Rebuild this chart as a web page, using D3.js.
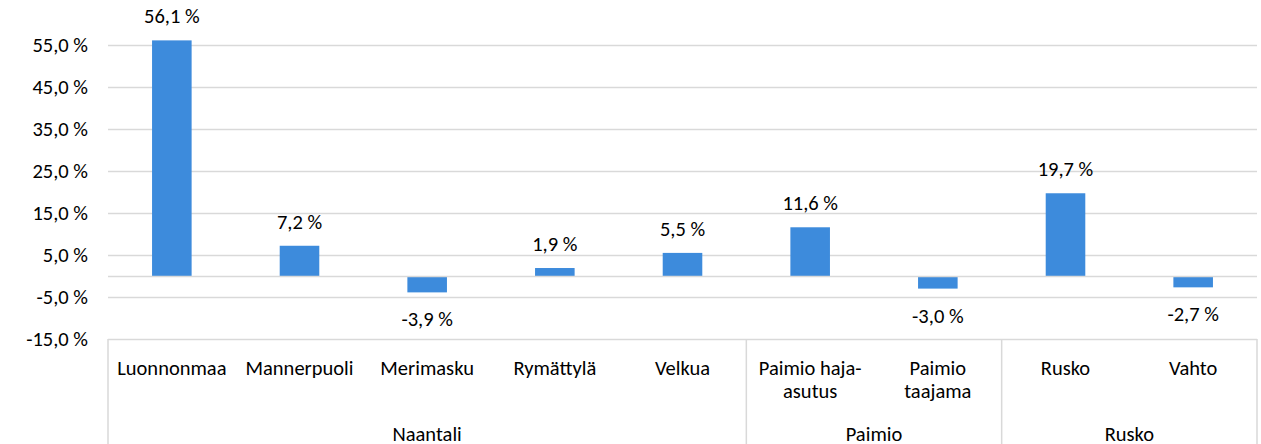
<!DOCTYPE html>
<html lang="fi">
<head>
<meta charset="UTF-8">
<title>Muutos</title>
<style>
    body { margin: 0; background: #fff; }
    svg text { font-family: Carlito, Calibri, Lato, sans-serif; fill: #000; }
</style>
</head>
<body>
<script src="https://cdn.jsdelivr.net/npm/d3@7"></script>
<script>
    // data
    var categories = ["Luonnonmaa", "Mannerpuoli", "Merimasku", "Rymättylä", "Velkua",
        "Paimio haja-\nasutus", "Paimio\ntaajama", "Rusko", "Vahto"];
    var values = [56.1, 7.2, -3.9, 1.9, 5.5, 11.6, -3.0, 19.7, -2.7];
    var groups = ["Naantali", "Paimio", "Rusko"];
    var groupSizes = [5, 2, 2];
    var yTicks = [-15, -5, 5, 15, 25, 35, 45, 55];

    var W = 1261, H = 444;
    var left = 108, right = 1257;
    var fs = "20.5px";

    var fmt = function (v) { return v.toFixed(1).replace(".", ",") + " %"; };

    var svg = d3.select("body").append("svg")
        .attr("width", W)
        .attr("height", H);

    var x = d3.scaleBand()
        .domain(categories)
        .range([left, right])
        .padding(0);

    var y = d3.scaleLinear()
        .domain([-15, 55])
        .range([339, 45]);

    // gridlines
    svg.append("g")
        .selectAll("line")
        .data(yTicks)
        .enter().append("line")
        .attr("x1", left)
        .attr("x2", right)
        .attr("y1", function (d) { return Math.round(y(d)) + 0.5; })
        .attr("y2", function (d) { return Math.round(y(d)) + 0.5; })
        .style("stroke", "#d9d9d9")
        .style("stroke-width", 1.5);

    // y labels
    var yAxis = d3.axisLeft(y)
        .tickValues(yTicks)
        .tickSize(0)
        .tickPadding(20)
        .tickFormat(fmt);

    var ya = svg.append("g")
        .attr("transform", "translate(" + left + ",0)")
        .call(yAxis);
    ya.select(".domain").remove();
    ya.selectAll("text")
        .style("font-size", fs)
        .style("font-family", "Carlito, Calibri, Lato, sans-serif");

    // bars
    var bw = x.bandwidth() * 0.31;
    svg.append("g")
        .selectAll("rect")
        .data(values)
        .enter().append("rect")
        .attr("x", function (d, i) { return x(categories[i]) + (x.bandwidth() - bw) / 2; })
        .attr("width", bw)
        .attr("y", function (d) { return y(Math.max(0, d)); })
        .attr("height", function (d) { return Math.abs(y(d) - y(0)); })
        .style("fill", "#3d8bdc");

    // zero line
    svg.append("line")
        .attr("x1", left)
        .attr("x2", right)
        .attr("y1", Math.round(y(0)) + 0.5)
        .attr("y2", Math.round(y(0)) + 0.5)
        .style("stroke", "#d9d9d9")
        .style("stroke-width", 1.5);

    // value labels
    svg.append("g")
        .selectAll("text")
        .data(values)
        .enter().append("text")
        .attr("x", function (d, i) { return x(categories[i]) + x.bandwidth() / 2; })
        .attr("y", function (d) { return d >= 0 ? y(d) - 17 : y(d) + 34; })
        .attr("text-anchor", "middle")
        .style("font-size", fs)
        .text(fmt);

    // category box lines
    var bottom = H;
    var bounds = [0];
    groupSizes.forEach(function (n, i) { bounds.push(bounds[i] + n); });
    svg.append("g")
        .selectAll("line")
        .data(bounds)
        .enter().append("line")
        .attr("x1", function (d) { return d < categories.length ? x(categories[d]) : right; })
        .attr("x2", function (d) { return d < categories.length ? x(categories[d]) : right; })
        .attr("y1", y(-15))
        .attr("y2", bottom)
        .style("stroke", "#d9d9d9")
        .style("stroke-width", 1.5);

    // category labels
    var cl = svg.append("g")
        .selectAll("text")
        .data(categories)
        .enter().append("text")
        .attr("x", function (d) { return x(d) + x.bandwidth() / 2; })
        .attr("y", 375)
        .attr("text-anchor", "middle")
        .style("font-size", fs);
    cl.each(function (d) {
        var t = d3.select(this);
        d.split("\n").forEach(function (line, k) {
            t.append("tspan")
                .attr("x", t.attr("x"))
                .attr("dy", k === 0 ? 0 : 23)
                .text(line);
        });
    });

    // group labels
    svg.append("g")
        .selectAll("text")
        .data(groups)
        .enter().append("text")
        .attr("x", function (d, i) {
            var a = x(categories[bounds[i]]);
            var b = bounds[i + 1] < categories.length ? x(categories[bounds[i + 1]]) : right;
            return (a + b) / 2;
        })
        .attr("y", 441)
        .attr("text-anchor", "middle")
        .style("font-size", fs)
        .text(function (d) { return d; });
</script>
</body>
</html>
